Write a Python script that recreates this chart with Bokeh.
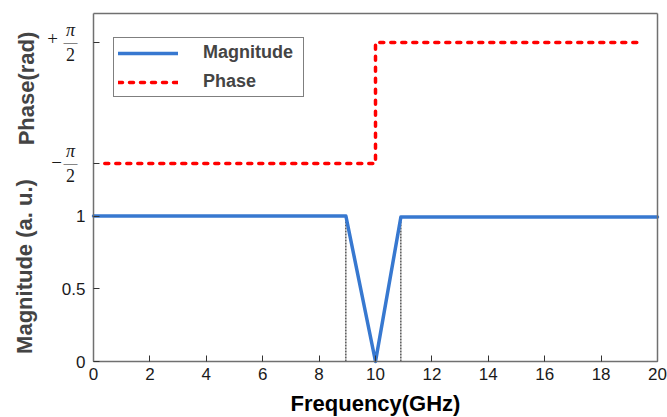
import math
from bokeh.plotting import figure
from bokeh.models import Range1d, FixedTicker, Label, Legend, LegendItem, LinearAxis
from bokeh.embed import file_html
from bokeh.resources import INLINE

# ---------------- data ----------------
freq_mag = [0, 8.95, 10, 10.9, 20]
magnitude = [1.0, 1.0, 0.0, 0.993, 0.993]
freq_phase = [0.4, 10, 10, 19.5]
phase = [-math.pi / 2, -math.pi / 2, math.pi / 2, math.pi / 2]
marker_freqs = [8.95, 10.9]
marker_tops = [1.0, 0.993]
x_ticks = list(range(0, 21, 2))
mag_ticks = [0, 0.5, 1]
phase_ticks = [-math.pi / 2, math.pi / 2]
phase_tick_signs = ["\u2212", "+"]

# ---------------- layout (pixels of the 667x417 canvas) ----------------
W, H = 667, 417
BOX_L, BOX_R, BOX_T, BOX_B = 93, 657, 13, 361
X_MIN, X_MAX = 0, 20
PX_PER_MAG = 145.5
PHASE_LO_PX, PHASE_HI_PX = 163, 42

px_x = (BOX_R - BOX_L) / (X_MAX - X_MIN)
x_range = Range1d(X_MIN - BOX_L / px_x, X_MAX + (W - BOX_R) / px_x)
y_range = Range1d(-(H - BOX_B) / PX_PER_MAG, BOX_B / PX_PER_MAG)
box_top = (BOX_B - BOX_T) / PX_PER_MAG
px_ph = (PHASE_LO_PX - PHASE_HI_PX) / (phase_ticks[1] - phase_ticks[0])
ph_range = Range1d(phase_ticks[0] - (H - PHASE_LO_PX) / px_ph, phase_ticks[1] + PHASE_HI_PX / px_ph)

def phase_to_mag(v):
    return (v - ph_range.start) / (ph_range.end - ph_range.start) * (y_range.end - y_range.start) + y_range.start

FONT = "Liberation Sans"
SERIF = "Liberation Serif"
GRAY = "#707070"
INK = "#1a1a1a"

p = figure(width=W, height=H, output_backend="svg", toolbar_location=None,
           x_range=x_range, y_range=y_range, x_axis_location=None, y_axis_location=None,
           min_border=0)
p.extra_y_ranges = {"phase": ph_range}
p.grid.visible = False
p.outline_line_color = None
p.background_fill_color = "white"
p.border_fill_color = "white"

def style_axis(ax):
    ax.axis_line_color = GRAY
    ax.axis_line_width = 1.5
    ax.major_tick_in = 6
    ax.major_tick_out = 0
    ax.major_tick_line_color = "#333333"
    ax.minor_tick_in = 6
    ax.minor_tick_out = 0
    ax.minor_tick_line_color = "#333333"
    ax.major_label_text_font = FONT
    ax.major_label_text_font_size = "17px"
    ax.major_label_text_color = INK

xaxis = LinearAxis(fixed_location=0, bounds=(X_MIN, X_MAX), ticker=FixedTicker(ticks=x_ticks))
style_axis(xaxis)
xaxis.major_label_standoff = 6
xaxis.axis_label = "Frequency(GHz)"
xaxis.axis_label_text_font = FONT
xaxis.axis_label_text_font_style = "bold"
xaxis.axis_label_text_font_size = "22px"
xaxis.axis_label_text_color = "black"
xaxis.axis_label_standoff = 8
p.add_layout(xaxis, "below")

yaxis = LinearAxis(fixed_location=X_MIN, bounds=(0, box_top),
                   ticker=FixedTicker(ticks=mag_ticks, minor_ticks=[phase_to_mag(v) for v in phase_ticks]))
style_axis(yaxis)
yaxis.major_label_standoff = 8
p.add_layout(yaxis, "left")

topaxis = LinearAxis(fixed_location=box_top, bounds=(X_MIN, X_MAX), ticker=FixedTicker(ticks=[]))
style_axis(topaxis)
p.add_layout(topaxis, "above")
rightaxis = LinearAxis(fixed_location=X_MAX, bounds=(0, box_top), ticker=FixedTicker(ticks=[]))
style_axis(rightaxis)
p.add_layout(rightaxis, "right")

# data lines
for f, t in zip(marker_freqs, marker_tops):
    p.line([f, f], [0, t], line_color="black", line_width=1, line_dash="2 1")
mag_r = p.line(freq_mag, magnitude, line_color="#3778d0", line_width=3.5,
               line_join="round", line_cap="round")
ph_r = p.line(freq_phase, phase, y_range_name="phase", line_color="#ff0000",
              line_width=3.5, line_dash="4 7", line_cap="round", line_join="round")

legend = Legend(items=[LegendItem(label="Magnitude", renderers=[mag_r]),
                       LegendItem(label="Phase", renderers=[ph_r])],
                location=(113, 320), border_line_color="black", border_line_width=1,
                label_text_font=FONT, label_text_font_style="bold", label_text_font_size="18px",
                glyph_width=60, glyph_height=16, label_height=16, label_width=96, label_standoff=25,
                padding=4, spacing=8, margin=0, background_fill_alpha=1)
p.add_layout(legend)

# phase tick labels (fractions)
for v, s in zip(phase_ticks, phase_tick_signs):
    y = phase_to_mag(v)
    sign_off = (-41, 4.5) if s == "+" else (-37, 1.5)
    p.add_layout(Label(x=X_MIN, y=y, x_offset=sign_off[0], y_offset=sign_off[1], text=s,
                       text_font=SERIF, text_font_size="19px", text_align="center",
                       text_baseline="middle", text_color=INK))
    p.add_layout(Label(x=X_MIN, y=y, x_offset=-23, y_offset=12.5, text="\u03c0",
                       text_font=SERIF, text_font_style="italic", text_font_size="18px",
                       text_align="center", text_baseline="middle", text_color=INK))
    p.add_layout(Label(x=X_MIN, y=y, x_offset=-23, y_offset=0.5, text="\u2014",
                       text_font=SERIF, text_font_size="14px",
                       text_align="center", text_baseline="middle", text_color=INK))
    p.add_layout(Label(x=X_MIN, y=y, x_offset=-23, y_offset=-11.5, text="2",
                       text_font=SERIF, text_font_size="18px",
                       text_align="center", text_baseline="middle", text_color=INK))

# y-axis titles
p.add_layout(Label(x=X_MIN, y=0, x_offset=-69, y_offset=95, angle=math.pi / 2,
                   text="Magnitude (a. u.)", text_font=FONT, text_font_style="bold",
                   text_font_size="22px", text_align="center", text_baseline="middle"))
p.add_layout(Label(x=X_MIN, y=0, x_offset=-67, y_offset=273, angle=math.pi / 2,
                   text="Phase(rad)", text_font=FONT, text_font_style="bold",
                   text_font_size="22px", text_align="center", text_baseline="middle"))

open("out.html", "w").write(file_html(p, INLINE))
